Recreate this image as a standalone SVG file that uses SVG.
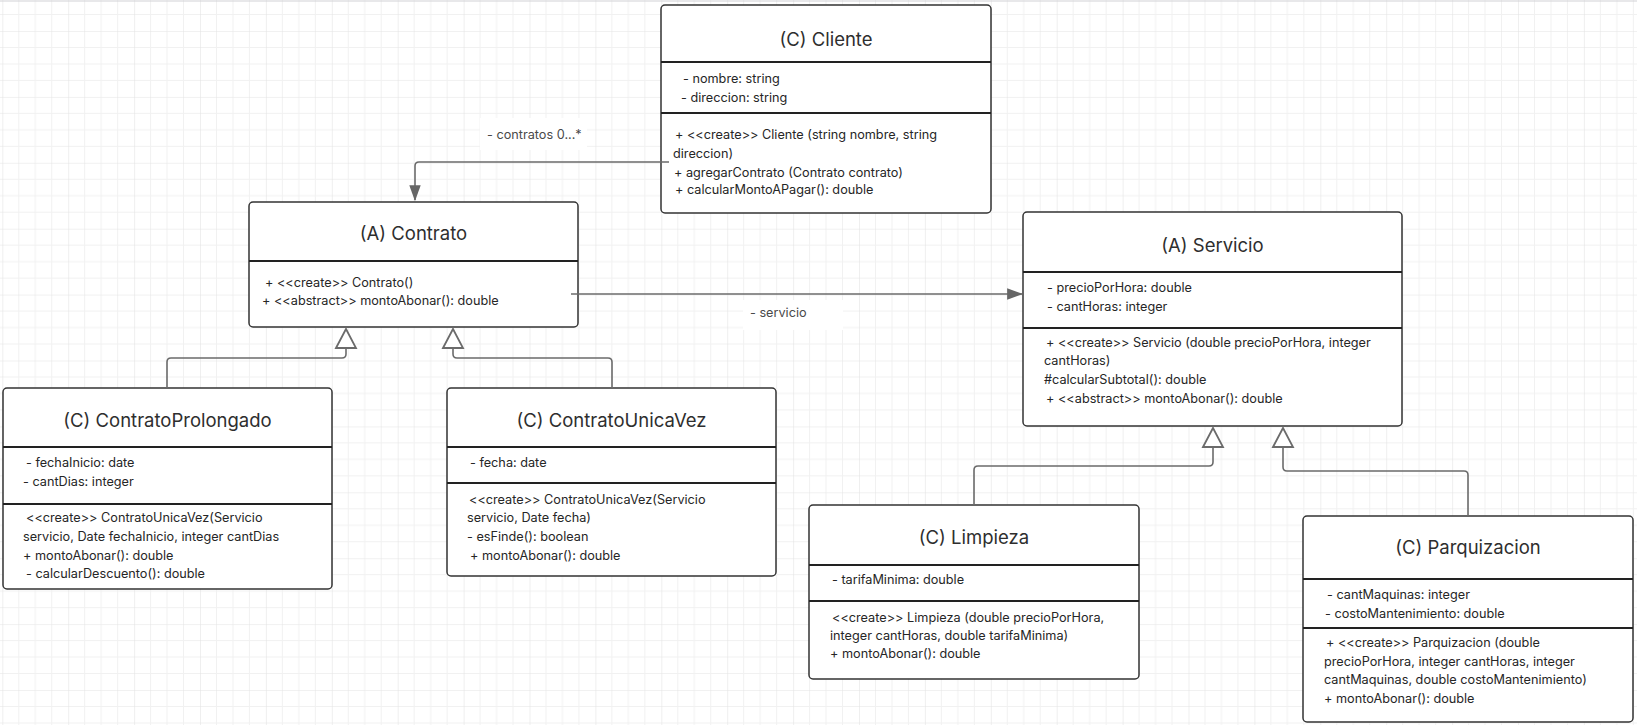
<svg xmlns="http://www.w3.org/2000/svg" width="1637" height="725" viewBox="0 0 1637 725">
  <style>
    .box { fill: #ffffff; stroke: #333333; stroke-width: 1.5; }
    .div { stroke: #222222; stroke-width: 2; }
    .title { font-family: Inter, "Liberation Sans", sans-serif; font-size: 18.5px; fill: #2e2e2e; text-anchor: middle; }
    .txt { font-family: Inter, "Liberation Sans", sans-serif; font-size: 12.7px; fill: #262626; }
    .edge { fill: none; stroke: #6b6b6b; stroke-width: 1.6; }
    .lbl { font-family: Inter, "Liberation Sans", sans-serif; font-size: 12.7px; fill: #4a4a4a; }
  </style>
  <defs>
    <pattern id="grid" patternUnits="userSpaceOnUse" x="2.3" y="31" width="65.9" height="65.9">
      <path d="M16.475 0V65.9M32.95 0V65.9M49.425 0V65.9M0 16.475H65.9M0 32.95H65.9M0 49.425H65.9" stroke="#f1f1f1" stroke-width="1" fill="none"/>
      <path d="M0 0V65.9M0 0H65.9" stroke="#e4e4e4" stroke-width="1.2" fill="none"/>
    </pattern>
    <marker id="arrow" markerUnits="userSpaceOnUse" markerWidth="16" markerHeight="12" viewBox="0 0 14 10" refX="13" refY="5" orient="auto">
      <path d="M0 0L14 5L0 10Z" fill="#666666"/>
    </marker>
    <marker id="inherit" markerUnits="userSpaceOnUse" markerWidth="24" markerHeight="24" viewBox="-2 -12 24 24" refX="0" refY="0" orient="auto">
      <path d="M0 -10L19 0L0 10Z" fill="#ffffff" stroke="#6b6b6b" stroke-width="1.8" stroke-linejoin="miter"/>
    </marker>
  </defs>

  <!-- canvas grid -->
  <rect x="0" y="0" width="1637" height="725" fill="#ffffff"/>
  <rect x="0" y="0" width="1637" height="725" fill="url(#grid)"/>
  <line x1="0" y1="1" x2="1637" y2="1" stroke="#d2d2d6" stroke-width="1.2"/>

  <!-- Cliente -->
  <g id="cliente">
    <rect class="box" x="661" y="5" width="330" height="208" rx="4"/>
    <line class="div" x1="661" y1="62" x2="991" y2="62"/>
    <line class="div" x1="661" y1="113" x2="991" y2="113"/>
    <text class="title" x="826" y="45.5">(C) Cliente</text>
    <text class="txt" x="683" y="82.5">- nombre: string</text>
    <text class="txt" x="681" y="101.5">- direccion: string</text>
    <text class="txt" x="675" y="138.5">+ &lt;&lt;create&gt;&gt; Cliente (string nombre, string</text>
    <text class="txt" x="673" y="157.5">direccion)</text>
    <text class="txt" x="674" y="176.5">+ agregarContrato (Contrato contrato)</text>
    <text class="txt" x="675" y="194">+ calcularMontoAPagar(): double</text>
  </g>

  <!-- Contrato -->
  <g id="contrato">
    <rect class="box" x="249" y="202" width="329" height="125" rx="4"/>
    <line class="div" x1="249" y1="261" x2="578" y2="261"/>
    <text class="title" x="413.5" y="239.5">(A) Contrato</text>
    <text class="txt" x="265" y="286.5">+ &lt;&lt;create&gt;&gt; Contrato()</text>
    <text class="txt" x="262" y="304.5">+ &lt;&lt;abstract&gt;&gt; montoAbonar(): double</text>
  </g>

  <!-- ContratoProlongado -->
  <g id="contrato-prolongado">
    <rect class="box" x="3" y="388" width="329" height="201" rx="4"/>
    <line class="div" x1="3" y1="447" x2="332" y2="447"/>
    <line class="div" x1="3" y1="504" x2="332" y2="504"/>
    <text class="title" x="167.5" y="426.5">(C) ContratoProlongado</text>
    <text class="txt" x="26" y="466.5">- fechaInicio: date</text>
    <text class="txt" x="23" y="485.5">- cantDias: integer</text>
    <text class="txt" x="26" y="521.5">&lt;&lt;create&gt;&gt; ContratoUnicaVez(Servicio</text>
    <text class="txt" x="23" y="540.5">servicio, Date fechaInicio, integer cantDias</text>
    <text class="txt" x="23" y="559.5">+ montoAbonar(): double</text>
    <text class="txt" x="26" y="577.5">- calcularDescuento(): double</text>
  </g>

  <!-- ContratoUnicaVez -->
  <g id="contrato-unica-vez">
    <rect class="box" x="447" y="388" width="329" height="188" rx="4"/>
    <line class="div" x1="447" y1="447" x2="776" y2="447"/>
    <line class="div" x1="447" y1="483" x2="776" y2="483"/>
    <text class="title" x="611.5" y="426.5">(C) ContratoUnicaVez</text>
    <text class="txt" x="470" y="466.5">- fecha: date</text>
    <text class="txt" x="469" y="503.5">&lt;&lt;create&gt;&gt; ContratoUnicaVez(Servicio</text>
    <text class="txt" x="467" y="521.5">servicio, Date fecha)</text>
    <text class="txt" x="467" y="540.5">- esFinde(): boolean</text>
    <text class="txt" x="470" y="559.5">+ montoAbonar(): double</text>
  </g>

  <!-- Servicio -->
  <g id="servicio">
    <rect class="box" x="1023" y="212" width="379" height="214" rx="4"/>
    <line class="div" x1="1023" y1="272" x2="1402" y2="272"/>
    <line class="div" x1="1023" y1="328" x2="1402" y2="328"/>
    <text class="title" x="1212.5" y="251.5">(A) Servicio</text>
    <text class="txt" x="1047" y="291.5">- precioPorHora: double</text>
    <text class="txt" x="1047" y="310.5">- cantHoras: integer</text>
    <text class="txt" x="1046" y="346.5">+ &lt;&lt;create&gt;&gt; Servicio (double precioPorHora, integer</text>
    <text class="txt" x="1044" y="364.5">cantHoras)</text>
    <text class="txt" x="1044" y="383.5">#calcularSubtotal(): double</text>
    <text class="txt" x="1046" y="402.5">+ &lt;&lt;abstract&gt;&gt; montoAbonar(): double</text>
  </g>

  <!-- Limpieza -->
  <g id="limpieza">
    <rect class="box" x="809" y="505" width="330" height="174" rx="4"/>
    <line class="div" x1="809" y1="565" x2="1139" y2="565"/>
    <line class="div" x1="809" y1="601" x2="1139" y2="601"/>
    <text class="title" x="974" y="543.5">(C) Limpieza</text>
    <text class="txt" x="832" y="583.5">- tarifaMinima: double</text>
    <text class="txt" x="832" y="621.5">&lt;&lt;create&gt;&gt; Limpieza (double precioPorHora,</text>
    <text class="txt" x="830" y="639.5">integer cantHoras, double tarifaMinima)</text>
    <text class="txt" x="830" y="657.5">+ montoAbonar(): double</text>
  </g>

  <!-- Parquizacion -->
  <g id="parquizacion">
    <rect class="box" x="1303" y="516" width="330" height="206" rx="4"/>
    <line class="div" x1="1303" y1="579" x2="1633" y2="579"/>
    <line class="div" x1="1303" y1="628" x2="1633" y2="628"/>
    <text class="title" x="1468" y="553.5">(C) Parquizacion</text>
    <text class="txt" x="1327" y="598.5">- cantMaquinas: integer</text>
    <text class="txt" x="1325" y="617.5">- costoMantenimiento: double</text>
    <text class="txt" x="1326" y="646.5">+ &lt;&lt;create&gt;&gt; Parquizacion (double</text>
    <text class="txt" x="1324" y="665.5">precioPorHora, integer cantHoras, integer</text>
    <text class="txt" x="1324" y="683.5">cantMaquinas, double costoMantenimiento)</text>
    <text class="txt" x="1324" y="702.5">+ montoAbonar(): double</text>
  </g>

  <!-- connectors -->
  <g id="connectors">
    <!-- Cliente association to Contrato -->
    <path class="edge" d="M669 162H419Q415 162 415 166V200" marker-end="url(#arrow)"/>
    <rect x="480" y="118" width="107" height="32" fill="#ffffff"/>
    <text class="lbl" x="487" y="138.5">- contratos 0...*</text>

    <!-- Contrato association to Servicio -->
    <path class="edge" d="M571 294H1022" marker-end="url(#arrow)"/>
    <rect x="743" y="300" width="100" height="30" fill="#ffffff"/>
    <text class="lbl" x="750" y="316.5">- servicio</text>

    <!-- generalizations toward Contrato -->
    <path class="edge" d="M167 388V362Q167 358 171 358H342Q346 358 346 354V348" marker-end="url(#inherit)"/>
    <path class="edge" d="M612 388V362Q612 358 608 358H457Q453 358 453 354V348" marker-end="url(#inherit)"/>

    <!-- generalizations toward Servicio -->
    <path class="edge" d="M974 505V470Q974 466 978 466H1209Q1213 466 1213 462V447" marker-end="url(#inherit)"/>
    <path class="edge" d="M1468 516V475Q1468 471 1464 471H1287Q1283 471 1283 467V447" marker-end="url(#inherit)"/>
  </g>
</svg>
